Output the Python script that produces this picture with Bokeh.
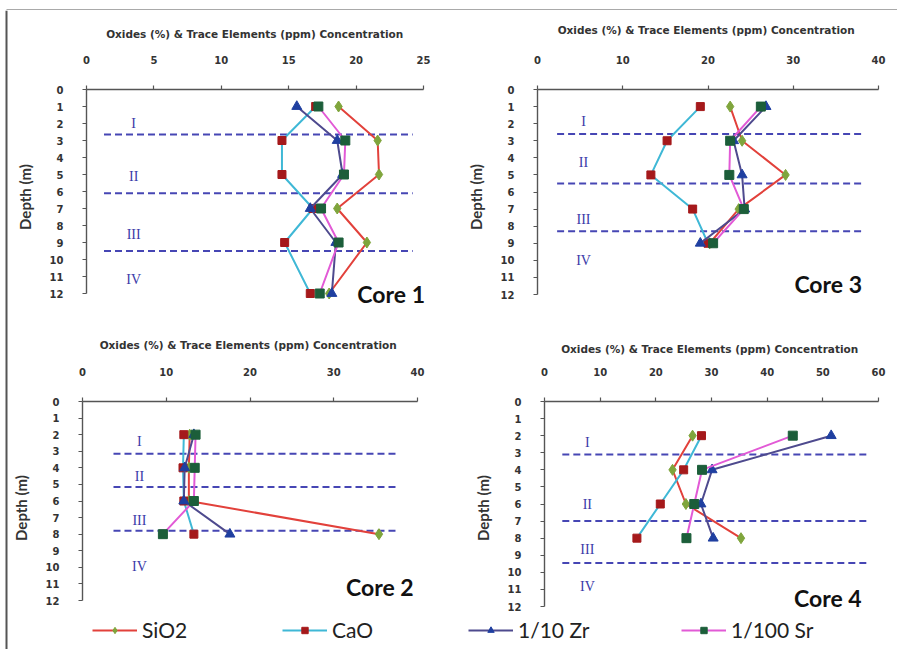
from bokeh.plotting import figure
from bokeh.layouts import column, row
from bokeh.models import Range1d, FixedTicker, Label, Legend, LegendItem, BoxAnnotation
from bokeh.embed import file_html
from bokeh.resources import INLINE
from bokeh.core.properties import value

# ---------------- data ----------------
series_names = ["SiO2", "CaO", "1/10 Zr", "1/100 Sr"]
zone_names = ["I", "II", "III", "IV"]
depth_ticks = list(range(0, 13))

core1_depth = [1, 3, 5, 7, 9, 12]
core1_sio2 = [18.7, 21.6, 21.7, 18.6, 20.8, 18.0]
core1_cao = [17.0, 14.5, 14.5, 16.8, 14.7, 16.6]
core1_zr = [15.6, 18.6, 19.0, 16.6, 18.5, 18.2]
core1_sr = [17.2, 19.2, 19.1, 17.4, 18.7, 17.3]
core1_zones = [2.65, 6.1, 9.5]

core2_depth = [2, 4, 6, 8]
core2_sio2 = [12.8, 12.7, 12.7, 35.4]
core2_cao = [12.1, 12.0, 12.1, 13.3]
core2_zr = [13.3, 12.2, 12.1, 17.6]
core2_sr = [13.5, 13.4, 13.3, 9.6]
core2_zones = [3.15, 5.15, 7.8]

core3_depth = [1, 3, 5, 7, 9]
core3_sio2 = [22.6, 24.0, 29.1, 23.6, 20.2]
core3_cao = [19.1, 15.2, 13.3, 18.2, 20.0]
core3_zr = [26.8, 23.0, 24.0, 24.3, 19.1]
core3_sr = [26.2, 22.6, 22.5, 24.2, 20.6]
core3_zones = [2.6, 5.5, 8.3]

core4_depth = [2, 4, 6, 8]
core4_sio2 = [26.6, 23.0, 25.4, 35.3]
core4_cao = [28.2, 25.0, 20.8, 16.6]
core4_zr = [51.5, 30.1, 28.1, 30.3]
core4_sr = [44.6, 28.3, 26.9, 25.5]
core4_zones = [3.1, 7.0, 9.45]

# ---------------- styles ----------------
LINE_COLORS = ["#e2413b", "#3fb8d6", "#4e4a8e", "#e25ad6"]
MARKERS = ["diamond", "square", "triangle", "square"]
MARKER_COLORS = ["#7fa53c", "#a5191b", "#1f3fa0", "#1c5e3a"]
MARKER_SIZES = [11, 8, 10, 9]
AX = "#555555"
ZONE = "#4646b4"
TITLE = "Oxides (%) & Trace Elements (ppm)  Concentration"
NAN = float("nan")


def panel(width, height, fl, ft, fw, fh, exb, exr, xmax, xstep, depth, vals, zones,
          dash_x, zl_x, zl_y, core_name, core_xy, title_standoff):
    ymax = 12 + exb * 12.0 / fh
    xend = xmax + exr * float(xmax) / fw
    p = figure(frame_width=fw + exr, frame_height=fh + exb,
               output_backend="svg", toolbar_location=None,
               x_range=Range1d(0, xend), y_range=Range1d(ymax, 0),
               x_axis_location="above", y_axis_location="left",
               min_border_left=fl, min_border_top=ft,
               min_border_right=width - fl - fw - exr,
               min_border_bottom=height - ft - fh - exb)
    p.outline_line_color = None
    p.xgrid.visible = False
    p.ygrid.visible = False
    p.xaxis.ticker = FixedTicker(ticks=list(range(0, xmax + 1, xstep)))
    p.yaxis.ticker = FixedTicker(ticks=depth_ticks)
    p.xaxis.bounds = (0, xmax)
    p.yaxis.bounds = (0, 12)
    for ax in (p.xaxis[0], p.yaxis[0]):
        ax.axis_line_color = AX
        ax.axis_line_width = 1.4
        ax.major_tick_line_color = AX
        ax.major_tick_line_width = 1.2
        ax.major_tick_out = 4
        ax.major_tick_in = 0
        ax.minor_tick_line_color = None
        ax.major_label_text_font = "DejaVu Sans"
        ax.major_label_text_font_style = "bold"
        ax.major_label_text_font_size = "10px"
        ax.major_label_text_color = "#333333"
        ax.axis_label_text_font_style = "bold"
        ax.axis_label_text_color = "#333333"
    xa = p.xaxis[0]
    xa.axis_label = TITLE
    xa.axis_label_text_font = "DejaVu Sans"
    xa.axis_label_text_font_size = "10.5px"
    xa.axis_label_standoff = title_standoff
    xa.major_label_standoff = 22
    ya = p.yaxis[0]
    ya.axis_label = "Depth (m)"
    ya.axis_label_text_font = "Lato"
    ya.axis_label_text_font_size = "15px"
    ya.axis_label_standoff = 13
    ya.major_label_standoff = 19

    # zone boundaries
    p.segment(x0=[dash_x[0]] * len(zones), x1=[dash_x[1]] * len(zones), y0=zones, y1=zones,
              line_color=ZONE, line_width=2, line_dash="7 4")
    p.text(x=[zl_x] * len(zone_names), y=zl_y, text=zone_names,
           text_font=value("Liberation Serif"), text_font_size="14px",
           text_color="#3a3aa8", text_align="center", text_baseline="middle")

    for v, lc, mk, mc, ms in zip(vals, LINE_COLORS, MARKERS, MARKER_COLORS, MARKER_SIZES):
        p.line(v, depth, line_color=lc, line_width=2)
        p.scatter(v, depth, marker=mk, size=ms, fill_color=mc, line_color=mc)

    p.add_layout(Label(x=core_xy[0], y=core_xy[1], text=core_name, text_font="Lato",
                       text_font_size="23px", text_font_style="bold", text_color="#111111",
                       text_align="center", text_baseline="middle"))
    return p


# plots in one row share their frame top/bottom, so each row uses common borders
p1 = panel(442, 308, 78, 79, 337, 204, 11, 3, 25, 5, core1_depth,
           [core1_sio2, core1_cao, core1_zr, core1_sr], core1_zones,
           (1.3, 24.2), 3.5, [2.0, 5.1, 8.5, 11.2], "Core 1", (22.6, 12.0), 13)
p3 = panel(447, 308, 87, 79, 341, 205, 10, 0, 40, 10, core3_depth,
           [core3_sio2, core3_cao, core3_zr, core3_sr], core3_zones,
           (2.3, 38.3), 5.4, [1.9, 4.3, 7.6, 10.0], "Core 3", (34.1, 11.4), 17)
p2 = panel(442, 297, 74, 83, 335, 199, 14, 0, 40, 10, core2_depth,
           [core2_sio2, core2_cao, core2_zr, core2_sr], core2_zones,
           (3.7, 37.4), 6.8, [2.4, 4.5, 7.2, 9.95], "Core 2", (35.5, 11.2), 14)
p4 = panel(447, 297, 94, 83, 334, 205, 8, 0, 60, 10, core4_depth,
           [core4_sio2, core4_cao, core4_zr, core4_sr], core4_zones,
           (3.2, 58.0), 7.7, [2.4, 6.0, 8.66, 10.85], "Core 4", (50.9, 11.5), 10)


def bare(w, h, xr, yr):
    f = figure(width=w, height=h, output_backend="svg", toolbar_location=None,
               x_range=Range1d(*xr), y_range=Range1d(*yr), min_border=0)
    f.axis.visible = False
    f.grid.visible = False
    f.outline_line_color = None
    return f


# frame lines
topbar = bare(897, 10, (0, 897), (10, 0))
topbar.add_layout(BoxAnnotation(left=6, top=7, bottom=9, fill_color=AX, fill_alpha=1, line_color=None))
leftbar = bare(8, 639, (0, 8), (639, 0))
leftbar.add_layout(BoxAnnotation(left=5, right=7, fill_color=AX, fill_alpha=1, line_color=None))

# legend
leg = bare(889, 34, (0, 1), (0, 1))
leg_x = [84, 274, 460, 673]
for name, lc, mk, mc, lx in zip(series_names, LINE_COLORS, MARKERS, MARKER_COLORS, leg_x):
    rl = leg.line(x=[NAN], y=[NAN], line_color=lc, line_width=2)
    rs = leg.scatter(x=[NAN], y=[NAN], marker=mk, fill_color=mc, line_color=mc, size=8)
    lg = Legend(items=[LegendItem(label=name, renderers=[rl, rs])], location=(lx, 7),
                orientation="horizontal", glyph_width=45, glyph_height=16, padding=0, margin=0,
                spacing=0, label_standoff=5, border_line_color=None, background_fill_alpha=0,
                label_text_font="Lato", label_text_font_size="21px", label_text_color="#222222")
    leg.add_layout(lg)

layout = column(topbar, row(leftbar, column(row(p1, p3), row(p2, p4), leg)))

open("out.html", "w").write(file_html(layout, INLINE))
